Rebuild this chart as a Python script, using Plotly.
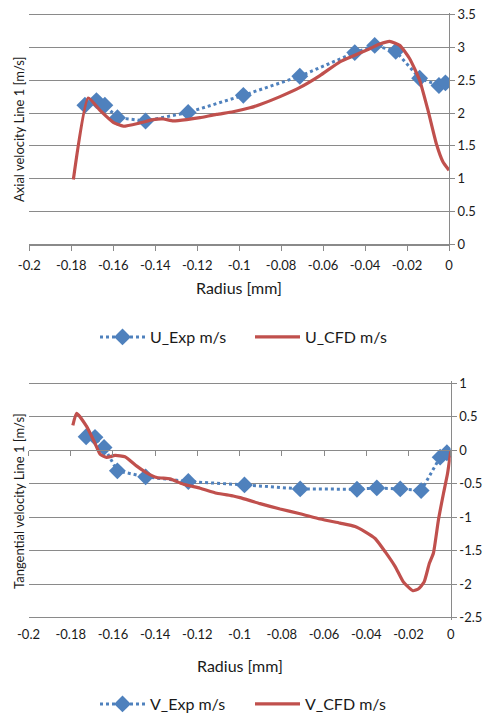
import plotly.graph_objects as go

# ---------------- data ----------------
u_exp_x = [-0.1735, -0.168, -0.164, -0.158, -0.1446, -0.1243, -0.098, -0.0711, -0.0449, -0.0354, -0.0254, -0.014, -0.0048, -0.0017]
u_exp_y = [2.12, 2.19, 2.12, 1.93, 1.88, 2.01, 2.27, 2.56, 2.92, 3.03, 2.94, 2.53, 2.42, 2.46]

u_cfd_x = [-0.179, -0.1719, -0.1663, -0.160, -0.1552, -0.1473, -0.141, -0.1362, -0.1314, -0.125, -0.1187,
           -0.1108, -0.1029, -0.0949, -0.090, -0.0805, -0.071, -0.0615, -0.052, -0.0449, -0.0378, -0.033,
           -0.0283, -0.0235, -0.0188, -0.014, -0.010, -0.006, -0.0029, 0.0]
u_cfd_y = [0.99, 2.23, 2.04, 1.86, 1.80, 1.85, 1.90, 1.91, 1.88, 1.90, 1.93,
           1.98, 2.02, 2.08, 2.13, 2.25, 2.39, 2.57, 2.78, 2.88, 2.98, 3.05,
           3.09, 3.03, 2.83, 2.50, 2.04, 1.53, 1.26, 1.13]

v_exp_x = [-0.1727, -0.1685, -0.1642, -0.1579, -0.1445, -0.1243, -0.0977, -0.0713, -0.0444, -0.035, -0.0239, -0.014, -0.005, -0.0018]
v_exp_y = [0.20, 0.19, 0.04, -0.31, -0.40, -0.47, -0.52, -0.58, -0.585, -0.565, -0.58, -0.605, -0.106, -0.04]

v_cfd_x = [-0.179, -0.1772, -0.1724, -0.1685, -0.1661, -0.163, -0.159, -0.1543, -0.1487, -0.144, -0.1392,
           -0.133, -0.1266, -0.1187, -0.1108, -0.103, -0.0998, -0.0903, -0.0808, -0.0713, -0.0618, -0.0524,
           -0.0453, -0.0405, -0.0358, -0.031, -0.0263, -0.0224, -0.0179, -0.0152, -0.0126, -0.0101,
           -0.0082, -0.0058, -0.0034, -0.0015, 0.0]
v_cfd_y = [0.37, 0.55, 0.35, 0.10, -0.06, -0.11, -0.08, -0.10, -0.24, -0.34, -0.41,
           -0.43, -0.51, -0.57, -0.645, -0.685, -0.71, -0.80, -0.88, -0.95, -1.03, -1.09,
           -1.14, -1.22, -1.32, -1.52, -1.74, -1.97, -2.10, -2.07, -1.97, -1.69,
           -1.54, -1.04, -0.645, -0.35, -0.02]

x_tickvals = [-0.2, -0.18, -0.16, -0.14, -0.12, -0.1, -0.08, -0.06, -0.04, -0.02, 0]
x_ticktext = ["-0.2", "-0.18", "-0.16", "-0.14", "-0.12", "-0.1", "-0.08", "-0.06", "-0.04", "-0.02", "0"]
u_tickvals = [0, 0.5, 1, 1.5, 2, 2.5, 3, 3.5]
u_ticktext = ["0", "0.5", "1", "1.5", "2", "2.5", "3", "3.5"]
v_tickvals = [-2.5, -2, -1.5, -1, -0.5, 0, 0.5, 1]
v_ticktext = ["-2.5", "-2", "-1.5", "-1", "-0.5", "0", "0.5", "1"]

# ---------------- style ----------------
BLUE = "#4F81BD"
RED = "#C0504D"
GRID = "#8a8a8a"
FONT = "Lato"
TXT = "#1a1a1a"

# the page body keeps an 8px margin, so the figure is 16px smaller than the window
OFF = 8
W, H = 492 - 2 * OFF, 723 - 2 * OFF
def py(p):  # window pixel y -> paper fraction
    return 1 - (p - OFF) / H
def px(p):
    return (p - OFF) / W

# small range padding so the edge gridlines are not dropped
PAD = 0.03
U_LO, U_HI = 0.0, 3.5
V_LO, V_HI = -2.5, 1.0
top_pix = (14.5, 244.5)      # window pixels of U_HI, U_LO
bot_pix = (383.1, 617.5)     # window pixels of V_HI, V_LO
top_ppu = (top_pix[1] - top_pix[0]) / (U_HI - U_LO)
bot_ppu = (bot_pix[1] - bot_pix[0]) / (V_HI - V_LO)

top_x = [px(29.3), px(449.0)]
top_y = [py(top_pix[1] + PAD * top_ppu), py(top_pix[0] - PAD * top_ppu)]
bot_x = [px(28.5), px(450.7)]
bot_y = [py(bot_pix[1] + PAD * bot_ppu), py(bot_pix[0] - PAD * bot_ppu)]
top_zero = py(top_pix[1])
bot_zero = py(bot_pix[0] + V_HI * bot_ppu)

fig = go.Figure()

fig.add_trace(go.Scatter(x=u_exp_x, y=u_exp_y, name="U_Exp m/s", mode="lines+markers",
                         line=dict(color=BLUE, width=3, dash="dot"),
                         marker=dict(symbol="diamond", size=13, color=BLUE),
                         xaxis="x", yaxis="y", legend="legend"))
fig.add_trace(go.Scatter(x=u_cfd_x, y=u_cfd_y, name="U_CFD m/s", mode="lines",
                         line=dict(color=RED, width=3.2, shape="spline", smoothing=0.5),
                         xaxis="x", yaxis="y", legend="legend"))
fig.add_trace(go.Scatter(x=v_exp_x, y=v_exp_y, name="V_Exp m/s", mode="lines+markers",
                         line=dict(color=BLUE, width=3, dash="dot"),
                         marker=dict(symbol="diamond", size=13, color=BLUE),
                         xaxis="x2", yaxis="y2", legend="legend2"))
fig.add_trace(go.Scatter(x=v_cfd_x, y=v_cfd_y, name="V_CFD m/s", mode="lines",
                         line=dict(color=RED, width=3.2, shape="spline", smoothing=0.5),
                         xaxis="x2", yaxis="y2", legend="legend2"))
# dummy trace for the overlay axis drawn at y=0 in the lower chart
fig.add_trace(go.Scatter(x=[None], y=[None], xaxis="x3", yaxis="y2", showlegend=False, hoverinfo="skip"))

tickfont = dict(family=FONT, size=13, color=TXT)

legend_common = dict(orientation="h", xanchor="left", yanchor="middle", itemwidth=45, entrywidth=95,
                     font=dict(family=FONT, size=16, color=TXT), bgcolor="rgba(0,0,0,0)")

fig.update_layout(
    template="none",
    width=W, height=H, autosize=False,
    margin=dict(l=0, r=0, t=0, b=0, pad=0, autoexpand=False),
    paper_bgcolor="white", plot_bgcolor="white",
    font=dict(family=FONT, color=TXT),
    xaxis=dict(domain=top_x, anchor="free", position=top_zero, range=[-0.2, 0],
               tickvals=x_tickvals, ticktext=x_ticktext, automargin=False,
               showgrid=False, zeroline=False, showline=True, linecolor=GRID, linewidth=1,
               ticks="outside", ticklen=5, tickcolor=GRID, tickfont=tickfont, ticklabelstandoff=4),
    yaxis=dict(domain=top_y, anchor="x", side="right", range=[U_LO - PAD, U_HI + PAD],
               tickvals=u_tickvals, ticktext=u_ticktext, automargin=False, ticklabeloverflow="allow",
               showgrid=True, gridcolor=GRID, gridwidth=1, zeroline=False, showline=True, linecolor=GRID,
               ticks="outside", ticklen=5, tickcolor=GRID, tickfont=tickfont),
    xaxis2=dict(domain=bot_x, anchor="y2", range=[-0.2, 0], tickvals=x_tickvals, ticktext=x_ticktext,
                automargin=False, ticklabelstandoff=5,
                showgrid=False, zeroline=False, showline=False, ticks="", tickfont=tickfont),
    xaxis3=dict(domain=bot_x, overlaying="x2", anchor="free", position=bot_zero, range=[-0.2, 0],
                automargin=False,
                tickvals=x_tickvals, showticklabels=False, showgrid=False, zeroline=False,
                showline=True, linecolor=GRID, ticks="outside", ticklen=5, tickcolor=GRID),
    yaxis2=dict(domain=bot_y, anchor="x2", side="right", range=[V_LO - PAD, V_HI + PAD],
                tickvals=v_tickvals, ticktext=v_ticktext, automargin=False, ticklabeloverflow="allow",
                showgrid=True, gridcolor=GRID, gridwidth=1, zeroline=False, showline=True, linecolor=GRID,
                ticks="outside", ticklen=5, tickcolor=GRID, tickfont=tickfont),
    legend=dict(x=px(95), y=py(337), **legend_common),
    legend2=dict(x=px(95), y=py(704), **legend_common),
    annotations=[
        dict(text="Radius [mm]", x=px(239), y=py(287), xref="paper", yref="paper",
             xanchor="center", yanchor="middle",
             showarrow=False, font=dict(family=FONT, size=16, color=TXT)),
        dict(text="Radius [mm]", x=px(240), y=py(665), xref="paper", yref="paper",
             xanchor="center", yanchor="middle",
             showarrow=False, font=dict(family=FONT, size=16, color=TXT)),
        dict(text="Axial velocity Line 1 [m/s]", x=px(19), y=py(129), xref="paper", yref="paper",
             xanchor="center", yanchor="middle",
             textangle=-90, showarrow=False, font=dict(family=FONT, size=13, color=TXT)),
        dict(text="Tangential velocity Line 1 [m/s]", x=px(19), y=py(501), xref="paper", yref="paper",
             xanchor="center", yanchor="middle",
             textangle=-90, showarrow=False, font=dict(family=FONT, size=13, color=TXT)),
    ],
)

fig.write_html("out.html")
